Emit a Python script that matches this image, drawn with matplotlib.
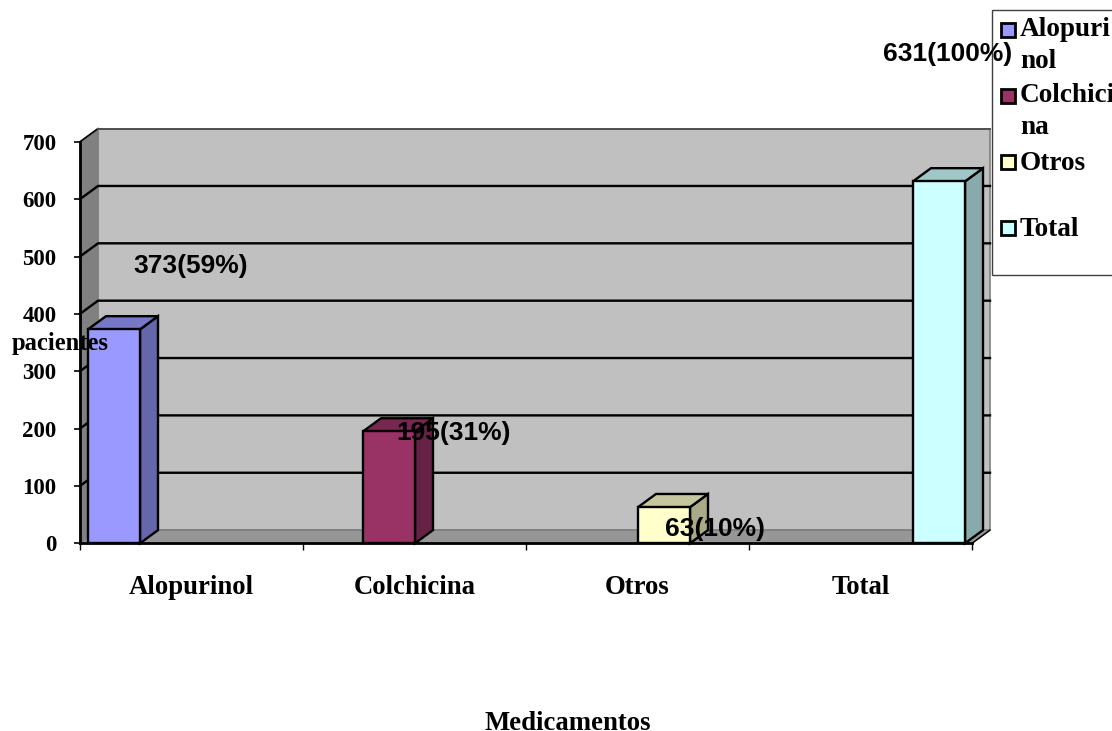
import matplotlib
matplotlib.use("Agg")
import matplotlib.pyplot as plt
from matplotlib.patches import Rectangle

categories = ["Alopurinol", "Colchicina", "Otros", "Total"]
pacientes = [373, 195, 63, 631]
porcentajes = [59, 31, 10, 100]
y_ticks = [0, 100, 200, 300, 400, 500, 600, 700]

front_colors = ["#9999FF", "#993366", "#FFFFCC", "#CCFFFF"]
top_colors = ["#7777C7", "#772850", "#C7C79F", "#9FC7C7"]
side_colors = ["#6666AA", "#662244", "#AAAA88", "#88AAAA"]

W, H = 1112, 731
SERIF = "Liberation Serif"
SANS = "Liberation Sans"

# pseudo-3D depth of the plot box, in data units
DX = 18 / 223
DY = 23
BAR_W = 52 / 223
BAR_START = 8 / 223
BAR_STEP = 275 / 223

# label anchors on the page (left edge, vertical centre)
value_label_pos = [(133, 266), (396, 433), (665, 529), (883, 54)]
legend_rows = [
    ("Alopuri", 30, 30),
    ("nol", None, 62),
    ("Colchici", 96, 96),
    ("na", None, 128),
    ("Otros", 162, 163),
    ("Total", 228, 229),
]
legend_swatches = front_colors


def fx(x):
    return x / W


def fy(y):
    return 1 - y / H


fig = plt.figure(figsize=(W / 100, H / 100), dpi=100, facecolor="white")
ax = fig.add_axes([fx(80), fy(543.3), 892 / W, 401.5 / H])
ax.set_xlim(0, 4)
ax.set_ylim(0, 700)
ax.patch.set_visible(False)

# walls and floor
ax.fill([DX, 4 + DX, 4 + DX, DX], [DY, DY, 700 + DY, 700 + DY],
        color="#C0C0C0", ec="#808080", lw=1.2, zorder=1, clip_on=False)
ax.fill([0, DX, DX, 0], [0, DY, 700 + DY, 700],
        color="#808080", ec="#808080", lw=1, zorder=1, clip_on=False)
ax.fill([0, 4, 4 + DX, DX], [0, 0, DY, DY],
        color="#969696", ec="#808080", lw=1.2, zorder=1, clip_on=False)

# gridlines run along the left wall, then the back wall
for v in y_ticks[1:-1]:
    ax.plot([0, DX, 4 + DX], [v, v + DY, v + DY], color="black", lw=1.7,
            zorder=2, clip_on=False, solid_joinstyle="miter")
ax.plot([0, DX], [700, 700 + DY], color="black", lw=1.2, zorder=2, clip_on=False)
ax.plot([DX, 4 + DX], [700 + DY, 700 + DY], color="#505050", lw=1.4, zorder=2, clip_on=False)
ax.plot([4, 4 + DX], [0, DY], color="black", lw=1.0, zorder=2, clip_on=False)

# bars, each with its side and top faces
for i, val in enumerate(pacientes):
    left = BAR_START + i * BAR_STEP
    right = left + BAR_W
    ax.fill([right, right + DX, right + DX, right], [0, DY, val + DY, val],
            fc=side_colors[i], ec="black", lw=1.7, zorder=3 + i, clip_on=False)
    ax.fill([left, right, right + DX, left + DX], [val, val, val + DY, val + DY],
            fc=top_colors[i], ec="black", lw=1.7, zorder=3 + i, clip_on=False)
    ax.bar(left, val, width=BAR_W, align="edge", color=front_colors[i],
           edgecolor="black", linewidth=1.7, zorder=3 + i, clip_on=False)

for side in ["top", "right"]:
    ax.spines[side].set_visible(False)
for side in ["left", "bottom"]:
    ax.spines[side].set_linewidth(2)
    ax.spines[side].set_zorder(9)

ax.set_yticks(y_ticks)
ax.set_yticklabels([str(v) for v in y_ticks], fontfamily=SERIF, fontweight="bold", fontsize=16.5)
ax.tick_params(axis="y", length=4, width=1.2, pad=13)

ax.set_xticks(range(5))
ax.set_xticklabels([])
ax.tick_params(axis="x", which="major", length=5, width=1.0)
ax.set_xticks([i + 0.5 for i in range(4)], minor=True)
ax.set_xticklabels(categories, minor=True, fontfamily=SERIF, fontweight="bold", fontsize=19.3)
ax.tick_params(axis="x", which="minor", length=0, pad=23)

fig.text(fx(568), fy(730), "Medicamentos", family=SERIF, weight="bold", fontsize=19.3,
         ha="center", va="baseline")
fig.text(fx(60), fy(343), "pacientes", family=SERIF, weight="bold", fontsize=17.7,
         ha="center", va="center", zorder=10)

# legend box runs off the right side of the page
fig.add_artist(Rectangle((fx(992), fy(275)), 130 / W, 265 / H, transform=fig.transFigure,
                         fc="white", ec="#404040", lw=1.0, zorder=5, clip_on=False))
swatch_colors = iter(legend_swatches)
for label, swatch_y, text_y in legend_rows:
    if swatch_y is not None:
        fig.add_artist(Rectangle((fx(1001), fy(swatch_y + 7)), 14 / W, 14 / H,
                                 transform=fig.transFigure, fc=next(swatch_colors),
                                 ec="black", lw=2, zorder=6))
    fig.text(fx(1020), fy(text_y), label, family=SERIF, weight="bold", fontsize=19.6,
             ha="left", va="center", zorder=6)

for val, pct, (x, y) in zip(pacientes, porcentajes, value_label_pos):
    fig.text(fx(x), fy(y), f"{val}({pct}%)", family=SANS, weight="bold", fontsize=19,
             ha="left", va="center", zorder=8)

fig.savefig("out.png", dpi=100)
